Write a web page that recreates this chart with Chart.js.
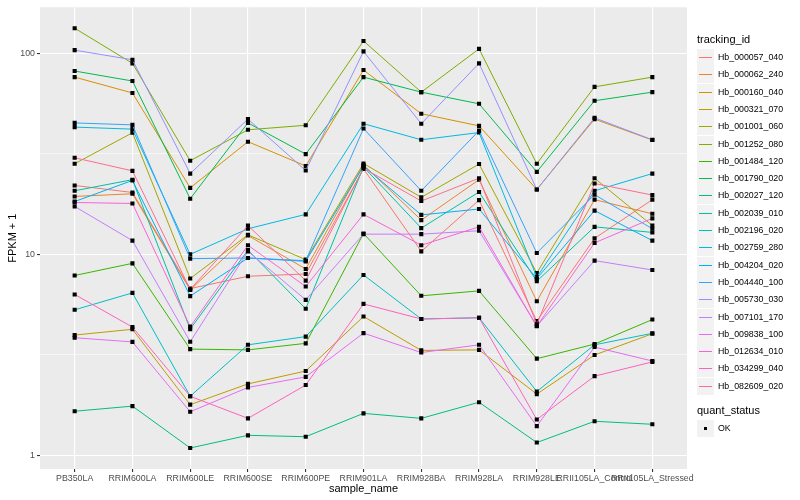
<!DOCTYPE html>
<html>
<head>
<meta charset="utf-8">
<script src="https://cdn.jsdelivr.net/npm/chart.js@4.4.1/dist/chart.umd.min.js"></script>
<style>
  body { margin: 0; background: #fff; font-family: "Liberation Sans", Arial, sans-serif; }
  #wrap { position: relative; width: 800px; height: 500px; }
  #legend { position: absolute; left: 697px; top: 0; width: 103px; }
  .lgTitle { position: absolute; left: 0; font-size: 11px; color: #000; white-space: nowrap; }
  .lgItem { position: absolute; left: 0; height: 17px; white-space: nowrap; }
  .lgKey { position: absolute; left: 0; top: 0; width: 17px; height: 17px; background: #f2f2f2; }
  .lgLine { position: absolute; left: 2px; top: 8px; width: 13px; height: 1px; }
  .lgDot { position: absolute; left: 7px; top: 7px; width: 3px; height: 3px; background: #000; }
  .lgText { position: absolute; left: 21px; top: 3px; font-size: 8.8px; color: #000; }
</style>
</head>
<body>
<div id="wrap">
  <canvas id="myChart" width="800" height="500"></canvas>
  <div id="legend"></div>
</div>
<script>
var sampleNames = ['PB350LA', 'RRIM600LA', 'RRIM600LE', 'RRIM600SE', 'RRIM600PE', 'RRIM901LA',
    'RRIM928BA', 'RRIM928LA', 'RRIM928LE', 'RRII105LA_Control', 'RRII105LA_Stressed'];

var trackingIds = ['Hb_000057_040', 'Hb_000062_240', 'Hb_000160_040', 'Hb_000321_070', 'Hb_001001_060',
    'Hb_001252_080', 'Hb_001484_120', 'Hb_001790_020', 'Hb_002027_120', 'Hb_002039_010',
    'Hb_002196_020', 'Hb_002759_280', 'Hb_004204_020', 'Hb_004440_100', 'Hb_005730_030',
    'Hb_007101_170', 'Hb_009838_100', 'Hb_012634_010', 'Hb_034299_040', 'Hb_082609_020'];

var quantStatus = ['OK'];
var yTicks = [1, 10, 100];

// FPKM + 1, one array per tracking_id, in sampleNames order
var hb000057_040 = [22.0, 20.3, 6.76, 7.78, 7.99, 26.6, 10.35, 18.6, 4.66, 12.0, 18.7];
var hb000062_240 = [19.4, 20.0, 6.66, 12.4, 8.46, 27.8, 14.8, 23.5, 5.85, 18.7, 15.9];
var hb000160_040 = [76, 63.4, 21.4, 36.3, 27.5, 82.4, 50, 43.5, 21, 47, 37];
var hb000321_070 = [3.97, 4.24, 1.79, 2.27, 2.63, 4.91, 3.33, 3.35, 2.02, 3.16, 4.03];
var hb001001_060 = [28.2, 40.2, 7.58, 12.5, 9.41, 28.3, 19.2, 28.1, 8.08, 23.9, 13.9];
var hb001252_080 = [133, 89, 29.2, 41.6, 43.8, 115, 64, 105, 28.2, 68, 76];
var hb001484_120 = [7.85, 9.02, 3.38, 3.35, 3.61, 12.7, 6.22, 6.58, 3.03, 3.58, 4.74];
var hb001790_020 = [81.5, 72.7, 18.9, 45, 31.5, 76, 64, 56, 25.7, 58, 64];
var hb002027_120 = [1.66, 1.76, 1.09, 1.26, 1.24, 1.62, 1.53, 1.84, 1.16, 1.48, 1.43];
var hb002039_010 = [20.7, 23.5, 4.25, 10.5, 5.36, 27.2, 13.5, 20.4, 7.35, 13.7, 12.85];
var hb002196_020 = [5.3, 6.43, 1.97, 3.55, 3.9, 7.9, 4.77, 4.84, 2.08, 3.55, 4.05];
var hb002759_280 = [42.9, 41.9, 10.0, 13.4, 15.8, 44.6, 37.1, 40.3, 7.7, 20.7, 25.2];
var hb004204_020 = [18.3, 23.3, 6.2, 9.59, 9.23, 27.5, 15.7, 16.8, 7.58, 16.5, 11.7];
var hb004440_100 = [45, 44, 9.52, 9.59, 9.3, 42.2, 20.7, 41.2, 10.15, 19.8, 13.4];
var hb005730_030 = [103.5, 92.7, 25.2, 47, 26.1, 102, 44.6, 89, 21, 47.7, 37.1];
var hb007101_170 = [17.3, 11.7, 3.68, 10.35, 5.94, 12.6, 12.6, 13.1, 4.4, 9.31, 8.36];
var hb009838_100 = [3.85, 3.67, 1.65, 2.18, 2.46, 4.06, 3.25, 3.55, 1.40, 3.46, 2.95];
var hb012634_010 = [18.1, 17.9, 4.37, 11.1, 6.92, 15.8, 11.1, 13.7, 4.39, 11.4, 15.1];
var hb034299_040 = [6.32, 4.35, 1.97, 1.53, 2.24, 5.67, 4.77, 4.84, 1.51, 2.48, 2.92];
var hb082609_020 = [30.2, 26.0, 6.7, 13.9, 7.4, 26.8, 18.4, 23.9, 4.49, 22.5, 19.7];

var seriesValues = [hb000057_040, hb000062_240, hb000160_040, hb000321_070, hb001001_060,
    hb001252_080, hb001484_120, hb001790_020, hb002027_120, hb002039_010,
    hb002196_020, hb002759_280, hb004204_020, hb004440_100, hb005730_030,
    hb007101_170, hb009838_100, hb012634_010, hb034299_040, hb082609_020];

// ggplot hue palette, 20 levels
var lineColors = ['#F8766D', '#EA8331', '#D89000', '#C09B00', '#A3A500', '#7CAE00', '#39B600',
    '#00BB4E', '#00BF7D', '#00C1A3', '#00BFC4', '#00BAE0', '#00B0F6', '#35A2FF', '#9590FF',
    '#C77CFF', '#E76BF3', '#FA62DB', '#FF62BC', '#FF6C91'];

var fontName = '"Liberation Sans", Arial, sans-serif';

function makeDatasets(){
    let sets = [];
    for(let i = 0; i < trackingIds.length; i++){
        let pts = [];
        for(let j = 0; j < sampleNames.length; j++){
            pts.push({x: j + 1, y: seriesValues[i][j]});
        }
        sets.push({
            label: trackingIds[i],
            data: pts,
            borderColor: lineColors[i],
            borderWidth: 1,
            pointStyle: 'rect',
            pointRadius: 2.9,
            pointBackgroundColor: '#000',
            pointBorderWidth: 0,
            tension: 0,
            order: trackingIds.length - i
        });
    }
    return sets;
}

// grey panel behind the grid
var panelBg = {
    id: 'panelBg',
    beforeDraw: function(chart){
        let a = chart.chartArea;
        let c = chart.ctx;
        c.save();
        c.fillStyle = '#EBEBEB';
        c.fillRect(a.left, a.top, a.right - a.left, a.bottom - a.top);
        c.restore();
    }
};

function isMajor(v){
    return yTicks.indexOf(v) >= 0;
}

var ctx = document.getElementById('myChart');
var myChart = new Chart(ctx, {
    type: 'line',
    data: { datasets: makeDatasets() },
    options: {
        responsive: false,
        animation: false,
        layout: { padding: { left: 0, right: 113, top: 5, bottom: 0 } },
        plugins: { legend: { display: false }, tooltip: { enabled: false } },
        scales: {
            x: {
                type: 'linear',
                min: 0.4,
                max: 11.6,
                afterBuildTicks: function(scale){
                    scale.ticks = sampleNames.map(function(n, i){ return {value: i + 1}; });
                },
                afterFit: function(scale){ scale.height = 31; },
                border: { display: false },
                grid: { color: '#FFFFFF', lineWidth: 1.1, tickLength: 3, tickColor: '#333333' },
                ticks: {
                    autoSkip: false, maxRotation: 0, minRotation: 0, padding: 1,
                    color: '#4D4D4D', font: { family: fontName, size: 8.8 },
                    callback: function(v){ return sampleNames[v - 1]; }
                },
                title: {
                    display: true, text: 'sample_name', color: '#000',
                    font: { family: fontName, size: 11 }, padding: { top: 0, bottom: 4 }
                }
            },
            y: {
                type: 'logarithmic',
                min: Math.pow(10, -0.067),
                max: Math.pow(10, 2.228),
                afterBuildTicks: function(scale){
                    let t = [];
                    for(let i = 0; i < yTicks.length; i++){
                        t.push({value: yTicks[i]});
                        if(i < yTicks.length - 1){
                            t.push({value: Math.sqrt(yTicks[i] * yTicks[i + 1])});
                        }
                    }
                    scale.ticks = t;
                },
                afterFit: function(scale){ scale.width = 40; },
                border: { display: false },
                grid: {
                    color: '#FFFFFF',
                    lineWidth: function(c){ return c.tick && isMajor(c.tick.value) ? 1.1 : 0.55; },
                    tickLength: 3,
                    tickColor: function(c){ return c.tick && isMajor(c.tick.value) ? '#333333' : 'rgba(0,0,0,0)'; }
                },
                ticks: {
                    padding: 2, color: '#4D4D4D', font: { family: fontName, size: 8.8 },
                    callback: function(v){ return isMajor(v) ? String(v) : ''; }
                },
                title: {
                    display: true, text: 'FPKM + 1', color: '#000',
                    font: { family: fontName, size: 11 }, padding: { top: 6, bottom: 0 }
                }
            }
        }
    },
    plugins: [panelBg]
});

// legends on the right, built from the same arrays
function buildLegend(){
    let box = document.getElementById('legend');
    let html = '<div class="lgTitle" style="top:33px">tracking_id</div>';
    for(let i = 0; i < trackingIds.length; i++){
        let top = 49 + i * 17.3;
        html += '<div class="lgItem" style="top:' + top + 'px"><div class="lgKey">' +
            '<div class="lgLine" style="background:' + lineColors[i] + '"></div></div>' +
            '<div class="lgText">' + trackingIds[i] + '</div></div>';
    }
    html += '<div class="lgTitle" style="top:404px">quant_status</div>';
    for(let k = 0; k < quantStatus.length; k++){
        html += '<div class="lgItem" style="top:' + (420 + k * 17.3) + 'px"><div class="lgKey">' +
            '<div class="lgDot"></div></div><div class="lgText">' + quantStatus[k] + '</div></div>';
    }
    box.innerHTML = html;
}
buildLegend();
</script>
</body>
</html>
